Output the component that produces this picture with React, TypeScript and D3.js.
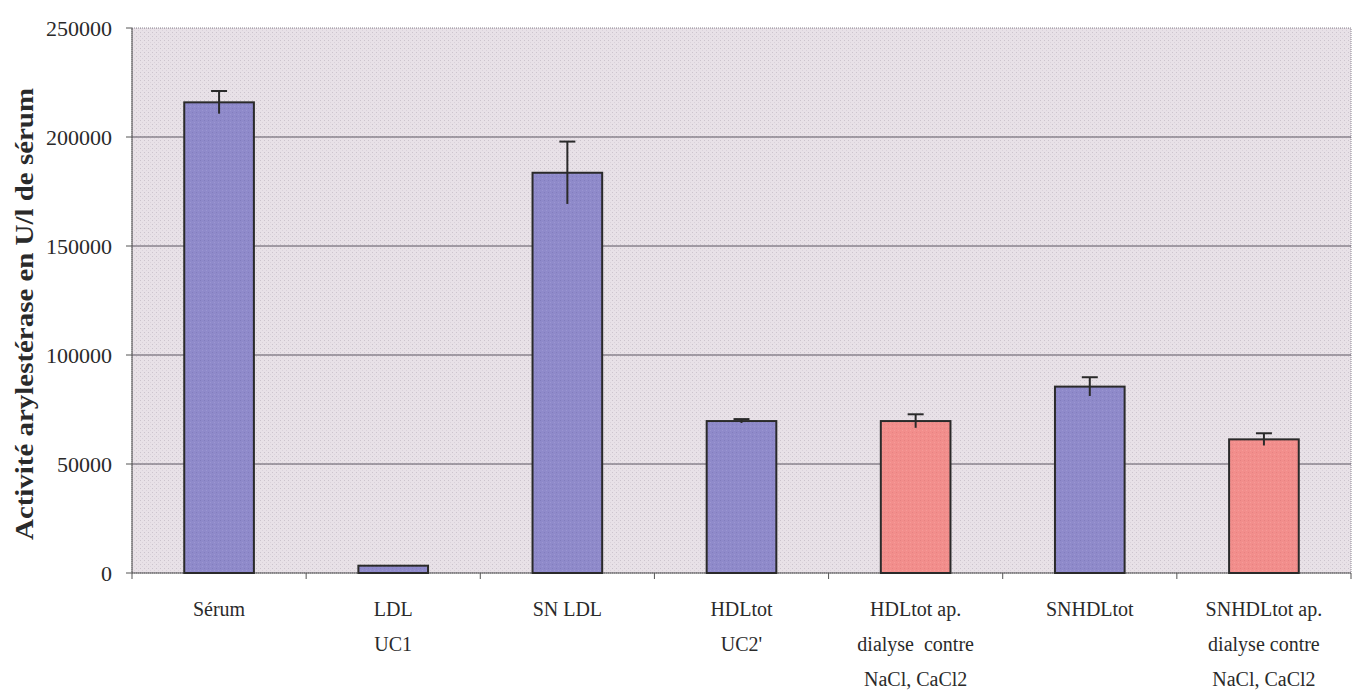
import React from "react";
import * as d3 from "d3";

const categories: string[][] = [
  ["Sérum"],
  ["LDL", "UC1"],
  ["SN LDL"],
  ["HDLtot", "UC2'"],
  ["HDLtot ap.", "dialyse  contre", "NaCl, CaCl2"],
  ["SNHDLtot"],
  ["SNHDLtot ap.", "dialyse contre", "NaCl, CaCl2"],
];
const values: number[] = [215900, 3350, 183600, 69700, 69700, 85500, 61300];
const errors: number[] = [5200, 0, 14300, 900, 3100, 4300, 2800];
const groups: string[] = ["a", "a", "a", "a", "b", "a", "b"];
const yTicks: number[] = [0, 50000, 100000, 150000, 200000, 250000];
const yLabel = "Activité arylestérase en U/l de sérum";

const W = 1354;
const H = 690;
const M = { left: 132, right: 3, top: 28, bottom: 117 };

export default function App() {
  const x = d3
    .scaleBand<number>()
    .domain(d3.range(categories.length))
    .range([M.left, W - M.right])
    .paddingInner(0.6)
    .paddingOuter(0.3);
  const y = d3.scaleLinear().domain([0, 250000]).range([H - M.bottom, M.top]);
  const step = (W - M.right - M.left) / categories.length;
  const font = "'Liberation Serif', 'Times New Roman', serif";
  const textCol = "#2a2a2a";

  return (
    <svg width={W} height={H} style={{ position: "absolute", left: 0, top: 0, background: "#fff" }}>
      <defs>
        <pattern id="tex" width="4" height="4" patternUnits="userSpaceOnUse">
          <rect width="4" height="4" fill="#e8e1e7" />
          <rect x="0" y="0" width="1" height="1" fill="#b9b0bc" opacity="0.6" />
          <rect x="2" y="2" width="1" height="1" fill="#d0c8d2" opacity="0.6" />
        </pattern>
        <pattern id="texA" width="4" height="4" patternUnits="userSpaceOnUse">
          <rect width="4" height="4" fill="#8f8aca" />
          <rect x="0" y="0" width="1" height="1" fill="#7a74b4" opacity="0.6" />
          <rect x="2" y="2" width="1" height="1" fill="#a39ed6" opacity="0.6" />
        </pattern>
        <pattern id="texB" width="4" height="4" patternUnits="userSpaceOnUse">
          <rect width="4" height="4" fill="#f28e8c" />
          <rect x="0" y="0" width="1" height="1" fill="#e07a7a" opacity="0.6" />
          <rect x="2" y="2" width="1" height="1" fill="#f7a4a0" opacity="0.6" />
        </pattern>
      </defs>
      <rect
        x={M.left}
        y={M.top}
        width={W - M.right - M.left}
        height={H - M.bottom - M.top}
        fill="url(#tex)"
        stroke="#8a8490"
        strokeWidth={1}
        strokeDasharray="1 1"
      />
      {yTicks.map((t) => (
        <g key={t}>
          {t > 0 && t < 250000 && (
            <line x1={M.left} x2={W - M.right} y1={y(t)} y2={y(t)} stroke="#5a5560" strokeWidth={1} />
          )}
          <line x1={M.left - 6} x2={M.left} y1={y(t)} y2={y(t)} stroke="#555" strokeWidth={1} />
          <text
            x={M.left - 20}
            y={y(t)}
            dy="0.35em"
            textAnchor="end"
            fontFamily={font}
            fontSize={22}
            fill={textCol}
          >
            {t}
          </text>
        </g>
      ))}
      <line x1={M.left} x2={W - M.right} y1={y(0)} y2={y(0)} stroke="#555" strokeWidth={1.2} />
      <line x1={M.left} x2={M.left} y1={M.top} y2={y(0)} stroke="#555" strokeWidth={1} />
      {d3.range(categories.length + 1).map((i) => (
        <line
          key={i}
          x1={M.left + i * step}
          x2={M.left + i * step}
          y1={y(0)}
          y2={y(0) + 6}
          stroke="#555"
          strokeWidth={1}
        />
      ))}
      {values.map((v, i) => {
        const bx = x(i)!;
        const bw = x.bandwidth();
        const cx = bx + bw / 2;
        const e = errors[i];
        return (
          <g key={i}>
            <rect
              x={bx}
              y={y(v)}
              width={bw}
              height={y(0) - y(v)}
              fill={groups[i] === "a" ? "url(#texA)" : "url(#texB)"}
              stroke="#2a2a2a"
              strokeWidth={2}
            />
            {e > 0 && (
              <g stroke="#2a2a2a" strokeWidth={2}>
                <line x1={cx} x2={cx} y1={y(v + e)} y2={y(v - e)} />
                <line x1={cx - 8} x2={cx + 8} y1={y(v + e)} y2={y(v + e)} />
              </g>
            )}
          </g>
        );
      })}
      {categories.map((lines, i) => {
        const cx = x(i)! + x.bandwidth() / 2;
        return (
          <text key={i} textAnchor="middle" fontFamily={font} fontSize={20} fill={textCol}>
            {lines.map((l, j) => (
              <tspan key={j} x={cx} y={y(0) + 43 + j * 35} style={{ whiteSpace: "pre" }}>
                {l}
              </tspan>
            ))}
          </text>
        );
      })}
      <text
        transform={`translate(24, 314) rotate(-90)`}
        textAnchor="middle"
        dy="0.35em"
        fontFamily={font}
        fontSize={25}
        fontWeight="bold"
        fill={textCol}
        textLength={452}
        lengthAdjust="spacingAndGlyphs"
      >
        {yLabel}
      </text>
    </svg>
  );
}
